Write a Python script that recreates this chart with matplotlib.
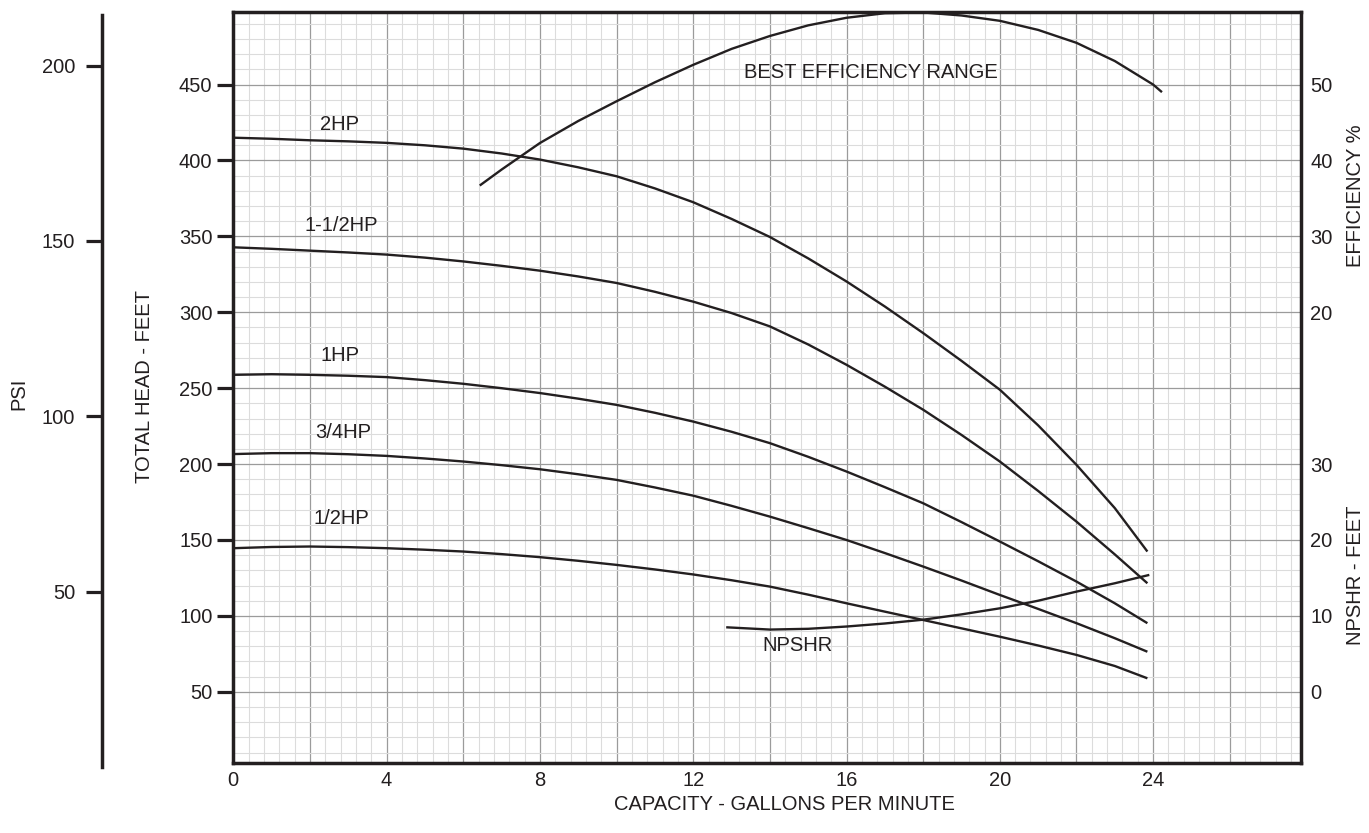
import matplotlib
matplotlib.use("Agg")
import numpy as np
import matplotlib.pyplot as plt
from matplotlib.ticker import MultipleLocator

plt.rcParams["font.family"] = ["Liberation Sans", "DejaVu Sans"]

INK = "#231f20"

# pump curves: capacity (gpm) vs total head (ft)
gpm = [0, 1, 2, 3, 4, 5, 6, 7, 8, 9, 10, 11, 12, 13, 14, 15, 16, 17, 18, 19, 20, 21, 22, 23, 23.85]
head_2hp = [415, 414.3, 413.3, 412.6, 411.6, 410, 407.8, 404.6, 400.6, 395.5, 389.6, 381.6,
            372.5, 361.5, 349.6, 335.5, 320.3, 303.8, 286.3, 268, 249, 225.5, 199.5, 171, 142.4]
head_15hp = [342.8, 341.8, 340.6, 339.4, 338, 336, 333.5, 330.6, 327.4, 323.6, 319.3, 313.5,
             307, 299.5, 290.7, 278.8, 265.4, 251, 235.8, 219.2, 201.7, 182.3, 162.1, 140.5, 121.5]
head_1hp = [258.8, 259.2, 258.8, 258.2, 257.3, 255.3, 252.9, 250, 246.8, 243.1, 239, 233.8,
            228, 221.3, 213.8, 204.8, 195.1, 184.8, 174.2, 161.8, 149, 136, 122.6, 108.3, 95.2]
head_34hp = [206.6, 207.2, 207.2, 206.5, 205.4, 203.7, 201.7, 199.3, 196.6, 193.3, 189.6, 184.6,
             179.2, 172.5, 165.4, 157.8, 150, 141.4, 132.5, 123.3, 113.8, 104.6, 95.2, 85.3, 76.4]
head_12hp = [144.6, 145.4, 145.7, 145.3, 144.6, 143.6, 142.4, 140.7, 138.7, 136.3, 133.6, 130.6,
             127.3, 123.5, 119.3, 114, 108.3, 102.8, 97.3, 91.8, 86.3, 80.5, 74.3, 67, 58.9]

# efficiency (%) and NPSHR (ft)
eff_gpm = [6.43, 7, 8, 9, 10, 11, 12, 13, 14, 15, 16, 17, 18, 19, 20, 21, 22, 23, 24, 24.23]
eff_pct = [36.7, 38.8, 42.3, 45.2, 47.8, 50.3, 52.6, 54.7, 56.4, 57.8, 58.8, 59.4, 59.5,
           59.1, 58.4, 57.2, 55.5, 53.1, 50, 49]
npshr_gpm = [12.86, 14, 15, 16, 17, 18, 19, 20, 21, 22, 23, 23.9]
npshr_ft = [8.5, 8.2, 8.3, 8.6, 9.0, 9.5, 10.2, 11, 12, 13.2, 14.3, 15.4]

W, H = 1369, 833
fig = plt.figure(figsize=(W / 100, H / 100), dpi=100)


def fx(px):
    return px / W


def fy(py):
    return 1 - py / H


HEAD_LO, HEAD_HI = 3.3, 498.0
GPM_HI = 27.85
FT_PER_PSI = 2.31
FS = 14.5

top_px, bot_px = 11.7, 762.7
ax = fig.add_axes([fx(233.3), fy(bot_px), fx(1300.7 - 233.3), (bot_px - top_px) / H])
ax.set_xlim(0, GPM_HI)
ax.set_ylim(HEAD_LO, HEAD_HI)

ax.set_xticks(np.arange(0, 27, 2))
ax.set_xticklabels([str(v) if v % 4 == 0 else "" for v in range(0, 27, 2)])
ax.xaxis.set_minor_locator(MultipleLocator(0.4))
ax.set_yticks(range(50, 451, 50))
ax.yaxis.set_minor_locator(MultipleLocator(10))
ax.set_axisbelow(True)
ax.grid(which="minor", color="#dcdcdc", lw=0.8)
ax.grid(which="major", color="#9b9b9b", lw=0.9)
ax.tick_params(axis="x", which="both", length=0, pad=6, labelsize=FS, labelcolor=INK)
ax.tick_params(axis="y", which="major", length=11.5, width=2.3, color=INK, pad=3.5,
               labelsize=FS, labelcolor=INK)
ax.tick_params(axis="y", which="minor", length=0)
for s in ax.spines.values():
    s.set_linewidth(2.5)
    s.set_color(INK)

line_kw = dict(color=INK, lw=1.7, solid_capstyle="butt", solid_joinstyle="round")
for h in (head_2hp, head_15hp, head_1hp, head_34hp, head_12hp):
    ax.plot(gpm, h, **line_kw)

label_kw = dict(fontsize=FS, color=INK, ha="center", va="center")
ax.text(2.78, 423.6, "2HP", **label_kw)
ax.text(2.81, 357, "1-1/2HP", **label_kw)
ax.text(2.79, 271.4, "1HP", **label_kw)
ax.text(2.86, 220.6, "3/4HP", **label_kw)
ax.text(2.83, 164.2, "1/2HP", **label_kw)
ax.text(16.64, 458.2, "BEST EFFICIENCY RANGE", **label_kw)
ax.text(14.71, 80.2, "NPSHR", **label_kw)

# right-hand scales: efficiency on top half, NPSHR on bottom half
ax_eff = ax.twinx()
ax_eff.set_ylim((HEAD_LO - 200) / 5, (HEAD_HI - 200) / 5)
ax_eff.set_yticks([20, 30, 40, 50])
ax_eff.plot(eff_gpm, eff_pct, **line_kw)

ax_np = ax.twinx()
ax_np.set_ylim((HEAD_LO - 50) / 5, (HEAD_HI - 50) / 5)
ax_np.set_yticks([0, 10, 20, 30])
ax_np.plot(npshr_gpm, npshr_ft, **line_kw)

for tw in (ax_eff, ax_np):
    tw.tick_params(axis="y", length=0, pad=7, labelsize=FS, labelcolor=INK)
    for s in tw.spines.values():
        s.set_visible(False)

# separate PSI scale on the far left
px_per_ft = (bot_px - top_px) / (HEAD_HI - HEAD_LO)
psi_top, psi_bot = 15, 767
ax_psi = fig.add_axes([fx(101.7), fy(psi_bot), 1e-4, (psi_bot - psi_top) / H])
ax_psi.set_ylim(0, (psi_bot - psi_top) / px_per_ft / FT_PER_PSI)
ax_psi.set_yticks([50, 100, 150, 200])
ax_psi.set_xticks([])
ax_psi.patch.set_visible(False)
for k, s in ax_psi.spines.items():
    s.set_visible(k == "left")
ax_psi.spines["left"].set_linewidth(2.5)
ax_psi.spines["left"].set_color(INK)
ax_psi.tick_params(axis="y", length=11.5, width=2.3, color=INK, pad=7.5,
                   labelsize=FS, labelcolor=INK)

txt_kw = dict(fontsize=FS, color=INK, ha="center", va="center")
fig.text(fx(19), fy(394), "PSI", rotation=90, **txt_kw)
fig.text(fx(145), fy(386.5), "TOTAL HEAD - FEET", rotation=90, **txt_kw)
fig.text(fx(1355.5), fy(196), "EFFICIENCY %", rotation=90, **txt_kw)
fig.text(fx(1355.5), fy(575), "NPSHR - FEET", rotation=90, **txt_kw)
fig.text(fx(784), fy(805), "CAPACITY - GALLONS PER MINUTE", **txt_kw)

fig.savefig("out.png", dpi=100)
